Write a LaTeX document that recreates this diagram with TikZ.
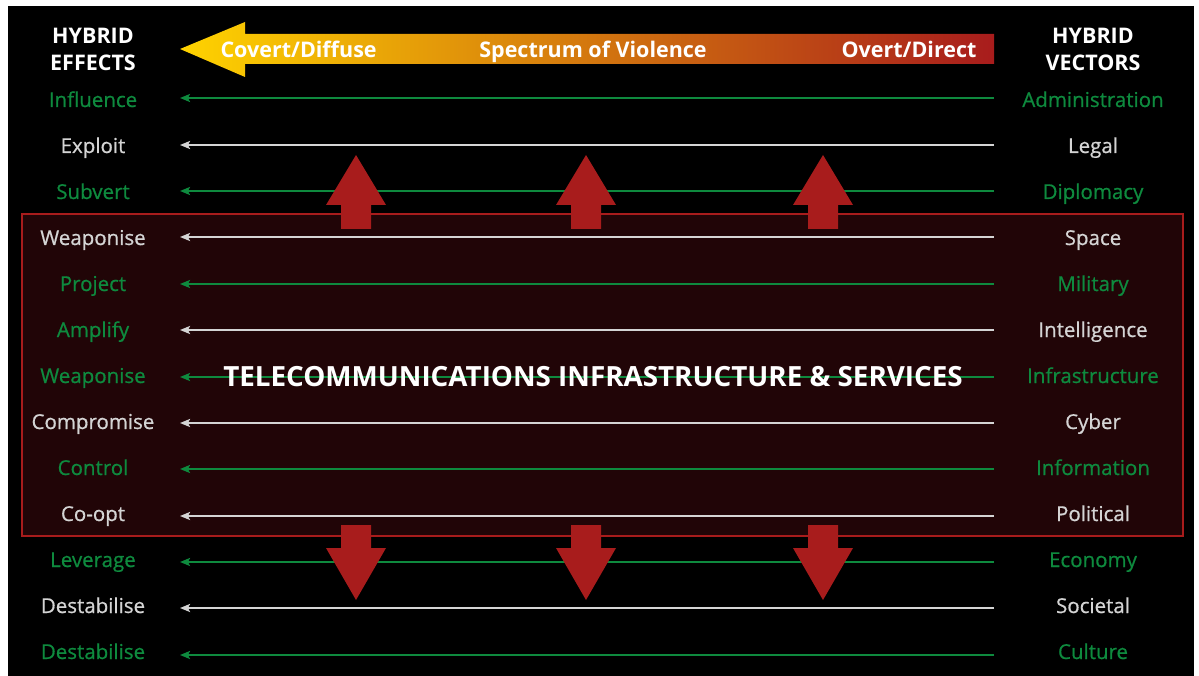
\documentclass[tikz,border=0pt]{standalone}
\usepackage{fontspec}
\usepackage{tikz}
\setmainfont{Open Sans}
\newfontfamily\labelfont[FakeBold=0.7]{Open Sans}
\usetikzlibrary{arrows.meta}

\definecolor{hgreen}{HTML}{0E8A3E}
\definecolor{hgrey}{HTML}{D4D4D4}
\definecolor{hred}{HTML}{A81C1C}
\definecolor{boxfill}{HTML}{210507}
\definecolor{spyellow}{HTML}{FFD300}
\definecolor{sporange}{HTML}{DC960A}

\begin{document}
\begin{tikzpicture}[
        x=1pt, y=-1pt,
        lbl/.style={anchor=base, font=\labelfont\fontsize{20.5}{24}\selectfont},
        glbl/.style={lbl, text=hgreen},
        wlbl/.style={lbl, text=hgrey},
        head/.style={anchor=base, text=white, font=\fontsize{21.5}{24}\selectfont\bfseries},
        gflow/.style={-{Stealth[length=10pt, width=8pt, inset=2pt]}, line width=2.5pt, hgreen},
        wflow/.style={gflow, hgrey},
        push/.style={fill=hred}
    ]

    % canvas
    \useasboundingbox (0,0) rectangle (1199,676);
    \fill[white] (0,0) rectangle (1199,676);
    \fill[black] (8,6) rectangle (1194,676);

    % SPECTRUM ARROW
    \shade[left color=spyellow, middle color=sporange, right color=hred]
        (180,49) -- (245,22) -- (245,34) -- (994,34) -- (994,64)
        -- (245,64) -- (245,77) -- cycle;
    \node[head, anchor=base west] (covert) at (217,58) {Covert/Diffuse};
    \node[head] (spectrum) at (593,58) {Spectrum of Violence};
    \node[head, anchor=base east] (overt) at (980,58) {Overt/Direct};

    % HEADINGS
    \node[head] (effA) at (93,44) {HYBRID};
    \node[head] (effB) at (93,71) {EFFECTS};
    \node[head] (vecA) at (1093,44) {HYBRID};
    \node[head] (vecB) at (1093,71) {VECTORS};

    % TELECOMS BOX
    \draw[hred, line width=2pt, fill=boxfill] (22,214) rectangle (1183,536);

    % ROWS: vector on the right, effect on the left
    \node[glbl] (eff1) at (93,107) {Influence};
    \node[glbl] (vec1) at (1093,107) {Administration};
    \coordinate (vin1) at (994,98); \coordinate (eout1) at (180,98);
    \node[wlbl] (eff2) at (93,153) {Exploit};
    \node[wlbl] (vec2) at (1093,153) {Legal};
    \coordinate (vin2) at (994,145); \coordinate (eout2) at (180,145);
    \node[glbl] (eff3) at (93,199) {Subvert};
    \node[glbl] (vec3) at (1093,199) {Diplomacy};
    \coordinate (vin3) at (994,191); \coordinate (eout3) at (180,191);
    \node[wlbl] (eff4) at (93,245) {Weaponise};
    \node[wlbl] (vec4) at (1093,245) {Space};
    \coordinate (vin4) at (994,237); \coordinate (eout4) at (180,237);
    \node[glbl] (eff5) at (93,291) {Project};
    \node[glbl] (vec5) at (1093,291) {Military};
    \coordinate (vin5) at (994,284); \coordinate (eout5) at (180,284);
    \node[glbl] (eff6) at (93,337) {Amplify};
    \node[wlbl] (vec6) at (1093,337) {Intelligence};
    \coordinate (vin6) at (994,330); \coordinate (eout6) at (180,330);
    \node[glbl] (eff7) at (93,383) {Weaponise};
    \node[glbl] (vec7) at (1093,383) {Infrastructure};
    \coordinate (vin7) at (994,377); \coordinate (eout7) at (180,377);
    \node[wlbl] (eff8) at (93,429) {Compromise};
    \node[wlbl] (vec8) at (1093,429) {Cyber};
    \coordinate (vin8) at (994,423); \coordinate (eout8) at (180,423);
    \node[glbl] (eff9) at (93,475) {Control};
    \node[glbl] (vec9) at (1093,475) {Information};
    \coordinate (vin9) at (994,469); \coordinate (eout9) at (180,469);
    \node[wlbl] (eff10) at (93,521) {Co-opt};
    \node[wlbl] (vec10) at (1093,521) {Political};
    \coordinate (vin10) at (994,516); \coordinate (eout10) at (180,516);
    \node[glbl] (eff11) at (93,567) {Leverage};
    \node[glbl] (vec11) at (1093,567) {Economy};
    \coordinate (vin11) at (994,562); \coordinate (eout11) at (180,562);
    \node[wlbl] (eff12) at (93,613) {Destabilise};
    \node[wlbl] (vec12) at (1093,613) {Societal};
    \coordinate (vin12) at (994,608); \coordinate (eout12) at (180,608);
    \node[glbl] (eff13) at (93,659) {Destabilise};
    \node[glbl] (vec13) at (1093,659) {Culture};
    \coordinate (vin13) at (994,655); \coordinate (eout13) at (180,655);

    \draw[gflow] (vin1) -- (eout1);
    \draw[wflow] (vin2) -- (eout2);
    \draw[gflow] (vin3) -- (eout3);
    \draw[wflow] (vin4) -- (eout4);
    \draw[gflow] (vin5) -- (eout5);
    \draw[wflow] (vin6) -- (eout6);
    \draw[gflow] (vin7) -- (eout7);
    \draw[wflow] (vin8) -- (eout8);
    \draw[gflow] (vin9) -- (eout9);
    \draw[wflow] (vin10) -- (eout10);
    \draw[gflow] (vin11) -- (eout11);
    \draw[wflow] (vin12) -- (eout12);
    \draw[gflow] (vin13) -- (eout13);

    % outward pressure arrows
    \foreach \cx in {356, 586, 823} {
        \fill[push] (\cx-15,229) -- (\cx-15,205) -- (\cx-30,205) -- (\cx,155)
            -- (\cx+30,205) -- (\cx+15,205) -- (\cx+15,229) -- cycle;
        \fill[push] (\cx-15,525) -- (\cx-15,548) -- (\cx-30,548) -- (\cx,600)
            -- (\cx+30,548) -- (\cx+15,548) -- (\cx+15,525) -- cycle;
    }

    \node[anchor=base, text=white, font=\fontsize{27.8}{30}\selectfont\bfseries]
        (telecom) at (593,386) {TELECOMMUNICATIONS INFRASTRUCTURE \& SERVICES};

\end{tikzpicture}
\end{document}
